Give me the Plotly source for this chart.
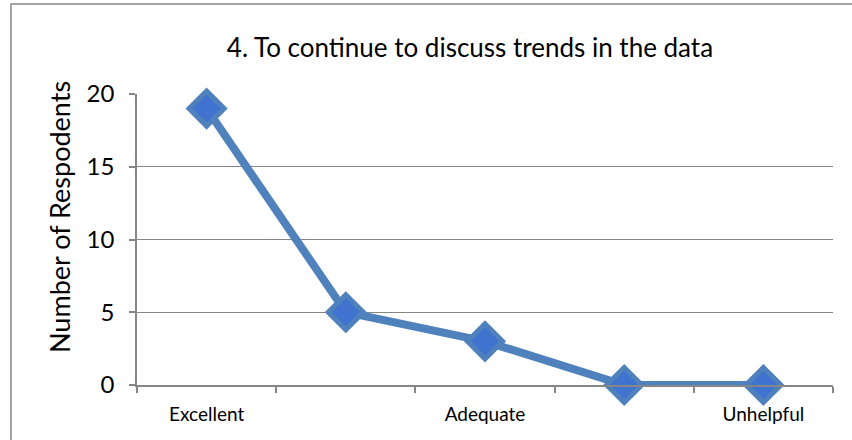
import plotly.graph_objects as go

categories = ["Excellent", "Good", "Adequate", "Poor", "Unhelpful"]
respondents = [19, 5, 3, 0, 0]
shown_labels = ["Excellent", "Adequate", "Unhelpful"]
title_text = "4. To continue to discuss trends in the data"
y_title = "Number of Respodents"

xs = list(range(len(categories)))
label_pos = [categories.index(c) for c in shown_labels]
boundaries = [i - 0.5 for i in range(len(categories) + 1)]

W, H = 852, 440
L, R, T, B = 137, 19, 94, 55
pw, ph = W - L - R, H - T - B

def px_x(p):
    return (p - L) / pw

def px_y(p):
    return (H - B - p) / ph

fig = go.Figure()
fig.add_trace(go.Scatter(
    x=xs, y=respondents, mode="lines+markers",
    line=dict(color="#4f81bd", width=8),
    marker=dict(symbol="diamond", size=27, color="#3f73cf",
                line=dict(color="#4f81bd", width=5)),
    hoverinfo="skip", showlegend=False, cliponaxis=False,
))

font_main = "Lato, Open Sans, sans-serif"

fig.update_layout(
    width=W, height=H,
    margin=dict(l=L, r=R, t=T, b=B),
    paper_bgcolor="white", plot_bgcolor="white",
    title=dict(text=title_text, x=470 / W, xanchor="center",
               y=1 - 48 / H, yanchor="middle",
               font=dict(family=font_main, size=26, color="black")),
    xaxis=dict(
        range=[-0.5, len(categories) - 0.5],
        tickvals=label_pos, ticktext=shown_labels,
        ticks="", showgrid=False, zeroline=False,
        showline=True, linecolor="#868686", linewidth=1.5,
        tickfont=dict(family=font_main, size=19, color="black"),
        ticklabelstandoff=11,
        minor=dict(tickvals=boundaries, ticks="outside", ticklen=6,
                   tickcolor="#868686", tickwidth=1.5, showgrid=False),
    ),
    yaxis=dict(
        range=[0, 20], dtick=5,
        ticks="outside", ticklen=6, tickcolor="#868686", tickwidth=1.5,
        showgrid=True, gridcolor="#868686", gridwidth=1.2,
        zeroline=False, showline=True, linecolor="#868686", linewidth=1.5,
        tickfont=dict(family=font_main, size=24, color="black"),
        ticklabelstandoff=10,
    ),
    annotations=[dict(text=y_title, xref="paper", yref="paper",
                      x=px_x(59), y=px_y(217), textangle=-90,
                      xanchor="center", yanchor="middle", showarrow=False,
                      font=dict(family=font_main, size=27, color="black"))],
    shapes=[dict(type="rect", xref="paper", yref="paper",
                 x0=px_x(11), x1=px_x(880), y0=px_y(480), y1=px_y(4),
                 line=dict(color="#888888", width=1.5), layer="below")],
)

fig.write_html("out.html",
               config={"displayModeBar": False},
               post_script="document.body.style.margin='0';document.body.style.overflow='hidden';")
